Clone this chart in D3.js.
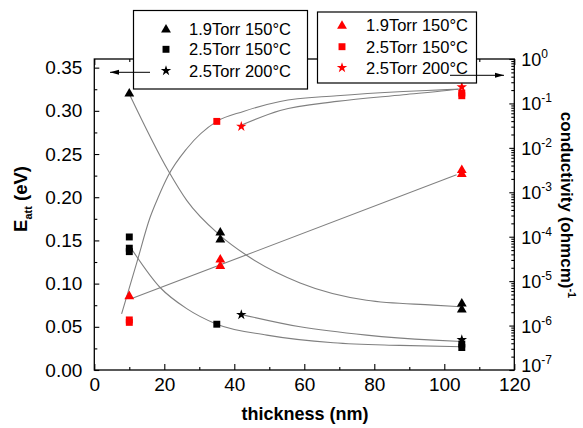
<!DOCTYPE html>
<html><head><meta charset="utf-8">
<script src="https://cdn.jsdelivr.net/npm/d3@7"></script>
<style>
body{margin:0;background:#fff;}
text{font-family:"Liberation Sans",Arial,sans-serif;}
</style></head>
<body><svg id="c" width="583" height="428"></svg>
<script>
// ---- data ----
const xTicks = [0, 20, 40, 60, 80, 100, 120];
const yLeftTicks = [0, 0.05, 0.10, 0.15, 0.20, 0.25, 0.30, 0.35];
const yRightExp = [0, -1, -2, -3, -4, -5, -6, -7];

// E_att (left axis), black
const triBlackX = [10, 36, 36, 105, 105];
const triBlackY = [0.321, 0.160, 0.152, 0.078, 0.071];
const sqBlackX = [10, 10, 10, 35, 105, 105];
const sqBlackY = [0.154, 0.141, 0.137, 0.053, 0.030, 0.026];
const starBlackX = [42, 105];
const starBlackY = [0.064, 0.035];

// conductivity (right axis), red
const triRedX = [10, 36, 36, 105, 105];
const triRedY = [4.8e-6, 3.2e-5, 2.3e-5, 3.3e-3, 2.7e-3];
const sqRedX = [10, 10, 35, 105, 105];
const sqRedY = [1.34e-6, 1.18e-6, 0.0394, 0.171, 0.149];
const starRedX = [42, 105];
const starRedY = [0.0303, 0.234];

// fit curves
const fitTriBlackX = [10, 21.1, 26.4, 35.9, 43.5, 58.8, 77.8, 96.8, 105];
const fitTriBlackY = [0.3195, 0.2309, 0.1963, 0.1559, 0.1328, 0.1008, 0.0808, 0.0751, 0.0731];
const fitSqBlackX = [10, 18.8, 26.4, 35, 49.3, 68.3, 87.3, 105];
const fitSqBlackY = [0.144, 0.0955, 0.071, 0.053, 0.0404, 0.0315, 0.0285, 0.0269];
const fitStarBlackX = [41.6, 58.8, 77.8, 96.9, 105];
const fitStarBlackY = [0.0647, 0.050, 0.0404, 0.0346, 0.0330];
const fitTriRedX = [10.7, 103.5];
const fitTriRedY = [4.05e-6, 2.48e-3];
const fitSqRedX = [7.8, 12.2, 15.9, 18.2, 21.1, 26.4, 35.0, 42.6, 53.1, 69.3, 88.3, 100.7, 104.5];
const fitSqRedY = [1.84e-6, 2.72e-5, 2.67e-4, 7.52e-4, 2.35e-3, 9.55e-3, 0.0394, 0.0661, 0.111, 0.149, 0.186, 0.204, 0.211];
const fitStarRedX = [41.6, 53.1, 69.3, 88.3, 100.7, 103.9];
const fitStarRedY = [0.0315, 0.0695, 0.111, 0.157, 0.196, 0.209];

const legendLabels = ["1.9Torr 150°C", "2.5Torr 150°C", "2.5Torr 200°C"];

// ---- drawing ----
const svg = d3.select("#c");
const L = 94.3, R = 514.3, T = 59, B = 370;
const x = d3.scaleLinear([0, 120], [L, R]);
const yL = d3.scaleLinear([0, 0.36], [B, T]);
const yR = d3.scaleLog([1e-7, 1], [B, T]);
const RED = "#ff0000", GRAY = "#808080";

const zip = (a, b) => a.map((v, i) => [v, b[i]]);

// fit lines
function fit(xs, ys, sc) {
  svg.append("path").datum(zip(xs, ys))
    .attr("fill", "none").attr("stroke", GRAY).attr("stroke-width", 1.1)
    .attr("d", d3.line().x(d => x(d[0])).y(d => sc(d[1])).curve(d3.curveMonotoneX));
}
fit(fitTriBlackX, fitTriBlackY, yL);
fit(fitSqBlackX, fitSqBlackY, yL);
fit(fitStarBlackX, fitStarBlackY, yL);
fit(fitTriRedX, fitTriRedY, yR);
fit(fitSqRedX, fitSqRedY, yR);
fit(fitStarRedX, fitStarRedY, yR);

const symTri = d3.symbol(d3.symbolTriangle, 42);
const symSq = d3.symbol(d3.symbolSquare, 48);
const symStar = d3.symbol(d3.symbolStar, 34);

function pts(xs, ys, sc, sym, col, dy) {
  svg.append("g").selectAll("path").data(zip(xs, ys)).join("path")
    .attr("transform", d => `translate(${x(d[0])},${sc(d[1]) + (dy||0)})`)
    .attr("d", sym).attr("fill", col);
}
pts(triBlackX, triBlackY, yL, symTri, "#000", 1);
pts(sqBlackX, sqBlackY, yL, symSq, "#000");
pts(starBlackX, starBlackY, yL, symStar, "#000");
pts(triRedX, triRedY, yR, symTri, RED, 1);
pts(sqRedX, sqRedY, yR, symSq, RED);
pts(starRedX, starRedY, yR, symStar, RED);

// axes frame
svg.append("rect").attr("x", L).attr("y", T).attr("width", R - L).attr("height", B - T)
  .attr("fill", "none").attr("stroke", "#000").attr("stroke-width", 1.3);

// bottom / top ticks
const xMinor = d3.range(10, 120, 20);
svg.append("g").attr("transform", `translate(0,${B})`)
  .call(d3.axisBottom(x).tickValues(xTicks).tickSize(-6).tickPadding(9).tickFormat(d3.format("d")))
  .call(g => g.select(".domain").remove())
  .call(g => g.selectAll("text").attr("font-size", 19).attr("font-family", "Liberation Sans, Arial").attr("dy", "0.71em").attr("y", 8));
svg.append("g").attr("transform", `translate(0,${B})`)
  .call(d3.axisBottom(x).tickValues(xMinor).tickSize(-3).tickFormat(""))
  .call(g => g.select(".domain").remove());
svg.append("g").attr("transform", `translate(0,${T})`)
  .call(d3.axisTop(x).tickValues(xTicks).tickSize(-6).tickFormat(""))
  .call(g => g.select(".domain").remove());
svg.append("g").attr("transform", `translate(0,${T})`)
  .call(d3.axisTop(x).tickValues(xMinor).tickSize(-3).tickFormat(""))
  .call(g => g.select(".domain").remove());

// left axis
const yMinor = d3.range(0.025, 0.36, 0.05);
svg.append("g").attr("transform", `translate(${L},0)`)
  .call(d3.axisLeft(yL).tickValues(yLeftTicks).tickSize(-5).tickPadding(12).tickFormat(d3.format(".2f")))
  .call(g => g.select(".domain").remove())
  .call(g => g.selectAll("text").attr("font-size", 19).attr("font-family", "Liberation Sans, Arial"));
svg.append("g").attr("transform", `translate(${L},0)`)
  .call(d3.axisLeft(yL).tickValues(yMinor).tickSize(-3).tickFormat(""))
  .call(g => g.select(".domain").remove());

// right axis (log)
const majR = yRightExp.map(e => Math.pow(10, e));
const minR = [];
yRightExp.slice(1).forEach(e => { for (let k = 2; k <= 9; k++) minR.push(k * Math.pow(10, e)); });
svg.append("g").attr("transform", `translate(${R},0)`)
  .call(d3.axisRight(yR).tickValues(majR).tickSize(-5).tickFormat(""))
  .call(g => g.select(".domain").remove());
svg.append("g").attr("transform", `translate(${R},0)`)
  .call(d3.axisRight(yR).tickValues(minR).tickSize(-3).tickFormat(""))
  .call(g => g.select(".domain").remove());
svg.selectAll(".tick line").attr("stroke-width", 1.1);
const rl = svg.append("g");
yRightExp.forEach(e => {
  const t = rl.append("text").attr("x", R + 7).attr("y", yR(Math.pow(10, e)) + (e === -7 ? 2 : 7))
    .attr("font-size", 18).attr("fill", "#000");
  t.append("tspan").text("10");
  t.append("tspan").attr("dy", -8).attr("font-size", 12).text(String(e));
});

// axis titles
svg.append("text").attr("x", 305).attr("y", 420).attr("text-anchor", "middle")
  .attr("font-size", 18).attr("font-weight", "bold").text("thickness (nm)");
const lt = svg.append("text").attr("transform", "translate(27,199) rotate(-90)")
  .attr("text-anchor", "middle").attr("font-size", 18.5).attr("font-weight", "bold");
lt.append("tspan").text("E");
lt.append("tspan").attr("dy", 5).attr("font-size", 11).text("att");
lt.append("tspan").attr("dy", -5).text(" (eV)");
const rt = svg.append("text").attr("transform", "translate(561,205) rotate(90)")
  .attr("text-anchor", "middle").attr("font-size", 17).attr("font-weight", "bold");
rt.append("tspan").text("conductivity (ohmcm)");
rt.append("tspan").attr("dy", -7).attr("font-size", 11).text("-1");

// legends
function legend(x0, y0, w, h, sx, tx, rows, col) {
  svg.append("rect").attr("x", x0).attr("y", y0).attr("width", w).attr("height", h)
    .attr("fill", "#fff").attr("stroke", "#000").attr("stroke-width", 1.2);
  const syms = [symTri, symSq, symStar];
  legendLabels.forEach((lab, i) => {
    svg.append("path").attr("transform", `translate(${sx},${rows[i] + (i === 0 ? 1 : 0)})`)
      .attr("d", syms[i]).attr("fill", col);
    svg.append("text").attr("x", tx).attr("y", rows[i] + 6).attr("font-size", 16.5).text(lab);
  });
}
legend(133.5, 10.5, 174, 78.5, 166, 189, [28.7, 49.3, 70.7], "#000");
legend(317.5, 12, 159, 71, 342, 366, [25, 46.7, 67.7], RED);

// arrows
function arrow(x1, x2, yy) {
  svg.append("line").attr("x1", x1).attr("x2", x2).attr("y1", yy).attr("y2", yy)
    .attr("stroke", "#000").attr("stroke-width", 1);
  const d = x2 > x1 ? 1 : -1;
  svg.append("path").attr("d", `M${x2},${yy} L${x2 - d * 9},${yy - 2.5} L${x2 - d * 9},${yy + 2.5} Z`).attr("fill", "#000");
}
arrow(150, 110, 72.3);
arrow(450, 504, 75.3);
</script></body></html>
